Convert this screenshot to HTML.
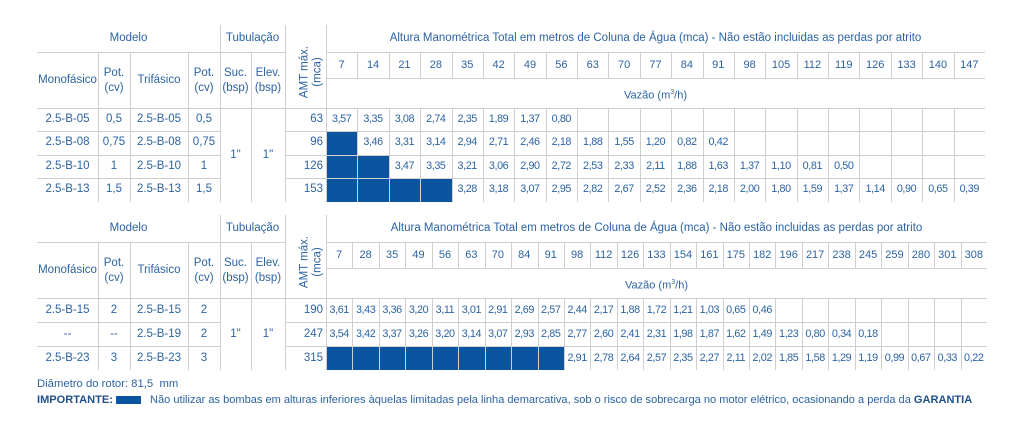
<!DOCTYPE html>
<html><head><meta charset="utf-8"><style>
body{margin:0;width:1024px;height:434px;background:#fff;overflow:hidden;position:relative;font-family:"Liberation Sans",sans-serif;color:#2c63a3}
.t{position:absolute;font-size:11px;white-space:nowrap;text-align:center;line-height:1.15}
.h{position:absolute;background:#cfcfcf;height:1px}
.v{position:absolute;background:#cfcfcf;width:1px}
.f{position:absolute;background:#0b55a0}
</style></head><body>
<div id="root"></div>
<div class="t" style="left:37px;top:378px;text-align:left;font-size:11.3px">Diâmetro do rotor: 81,5&nbsp; mm</div>
<div class="t" style="left:37px;top:394px;text-align:left;font-size:11.05px"><b style="color:#1f4f8c">IMPORTANTE:</b> <span style="display:inline-block;width:25px;height:8px;background:#0b55a0;vertical-align:middle;margin-right:6px"></span> Não utilizar as bombas em alturas inferiores àquelas limitadas pela linha demarcativa, sob o risco de sobrecarga no motor elétrico, ocasionando a perda da <b style="color:#1f4f8c">GARANTIA</b></div>
<script>
const flows1=[7,14,21,28,35,42,49,56,63,70,77,84,91,98,105,112,119,126,133,140,147];
const models1=[["2.5-B-05","0,5","2.5-B-05","0,5","63"],["2.5-B-08","0,75","2.5-B-08","0,75","96"],["2.5-B-10","1","2.5-B-10","1","126"],["2.5-B-13","1,5","2.5-B-13","1,5","153"]];
const values1=[
["3,57","3,35","3,08","2,74","2,35","1,89","1,37","0,80"],
["#","3,46","3,31","3,14","2,94","2,71","2,46","2,18","1,88","1,55","1,20","0,82","0,42"],
["#","#","3,47","3,35","3,21","3,06","2,90","2,72","2,53","2,33","2,11","1,88","1,63","1,37","1,10","0,81","0,50"],
["#","#","#","#","3,28","3,18","3,07","2,95","2,82","2,67","2,52","2,36","2,18","2,00","1,80","1,59","1,37","1,14","0,90","0,65","0,39"]];
const flows2=[7,28,35,49,56,63,70,84,91,98,112,126,133,154,161,175,182,196,217,238,245,259,280,301,308];
const models2=[["2.5-B-15","2","2.5-B-15","2","190"],["--","--","2.5-B-19","2","247"],["2.5-B-23","3","2.5-B-23","3","315"]];
const values2=[
["3,61","3,43","3,36","3,20","3,11","3,01","2,91","2,69","2,57","2,44","2,17","1,88","1,72","1,21","1,03","0,65","0,46"],
["3,54","3,42","3,37","3,26","3,20","3,14","3,07","2,93","2,85","2,77","2,60","2,41","2,31","1,98","1,87","1,62","1,49","1,23","0,80","0,34","0,18"],
["#","#","#","#","#","#","#","#","#","2,91","2,78","2,64","2,57","2,35","2,27","2,11","2,02","1,85","1,58","1,29","1,19","0,99","0,67","0,33","0,22"]];
const root=document.getElementById('root');
function el(cls,x,y,w,h,name,txt,fs){
  const d=document.createElement('div');d.className=cls;
  
  
  d.style.left=x+'px';d.style.top=y+'px';
  if(w!=null)d.style.width=w+'px';
  if(h!=null){d.style.height=h+'px';if(cls==='t')d.style.lineHeight=h+'px';}
  if(txt!=null)d.innerHTML=txt;
  if(fs)d.style.fontSize=fs+'px';
  root.appendChild(d);return d;
}
function table(top,flows,models,values,rowH,x1,tag){
  const L=37,X0=326,cols=[37,98,130,188,220,251,285,326];
  const cw=(x1-X0)/flows.length;
  const yA=top+27,yN=yA+26,yV=yN+30,yEnd=yV+rowH*models.length;
  const xc=i=>X0+i*cw;
  el('t',L,top,220-L,27,tag+'-modelo-header','Modelo',11.5);
  el('t',220,top,65,27,tag+'-tubulacao-header','Tubulação',11.5);
  el('t',326,top,x1-326,27,tag+'-amt-title','Altura Manométrica Total em metros de Coluna de Água (mca) - Não estão incluidas as perdas por atrito',11.5);
  const amt=el('t',291,top+12,41,70,tag+'-amt-max-header','AMT máx.<br>(mca)',11.5);
  amt.style.lineHeight='13px';amt.style.transform='rotate(-90deg)';amt.style.display='flex';amt.style.alignItems='center';amt.style.justifyContent='center';
  const sub=['Monofásico','Pot.<br>(cv)','Trifásico','Pot.<br>(cv)','Suc.<br>(bsp)','Elev.<br>(bsp)'];
  sub.forEach((s,i)=>{const d=el('t',cols[i],yA+14,cols[i+1]-cols[i],null,tag+'-col-header-'+i,s,11.5);d.style.lineHeight='15px';if(i===0||i===2)d.style.top=(yA+21)+'px';});
  flows.forEach((f,i)=>el('t',xc(i),yA,cw,26,tag+'-flow-'+f,String(f),11));
  el('t',X0,yN,x1-X0,30,tag+'-vazao-label','Vazão (m<sup style="font-size:7px">3</sup>/h)',11);
  values.forEach((r,ri)=>r.forEach((v,ci)=>{if(v==='#')el('f',xc(ci),yV+ri*rowH,cw+0.5,rowH,tag+'-limit-cell');}));
  models.forEach((m,ri)=>{const y=yV+ri*rowH;
    [0,1,2,3].forEach(k=>el('t',cols[k],y,cols[k+1]-cols[k],rowH,tag+'-model-cell',m[k],11.5));
    const a=el('t',285,y,38,rowH,tag+'-amt-value',m[4],11.5);a.style.textAlign='right';
    values[ri].forEach((v,ci)=>{if(v!=='#')el('t',xc(ci),y,cw,rowH,tag+'-value-cell',v,10.8).style.letterSpacing='-0.4px';});
  });
  const mid=yV+rowH*models.length/2;
  el('t',220,mid-10,31,20,tag+'-suc-size','1"',11.5);
  el('t',251,mid-10,34,20,tag+'-elev-size','1"',11.5);
  el('h',L,yA,285-L,null,tag+'-line');el('h',X0,yA,x1-X0,null,tag+'-line');
  el('h',X0,yN,x1-X0,null,tag+'-line');
  for(let r=0;r<models.length;r++){const y=yV+r*rowH;
    el('h',L,y,220-L,null,tag+'-line');el('h',285,y,x1-285,null,tag+'-line');
    if(r===0)el('h',220,y,65,null,tag+'-line');}
  [220,285,326].forEach(x=>el('v',x,top,null,yA-top,tag+'-vline'));
  cols.slice(1).forEach(x=>el('v',x,yA,null,yEnd-yA,tag+'-vline'));
  for(let i=1;i<flows.length;i++){el('v',xc(i),yA,null,yN-yA,tag+'-vline');el('v',xc(i),yV,null,yEnd-yV,tag+'-vline');}
}
table(25,flows1,models1,values1,23.4,985,'top');
table(215,flows2,models2,values2,24,987,'bottom');
</script>
</body></html>
